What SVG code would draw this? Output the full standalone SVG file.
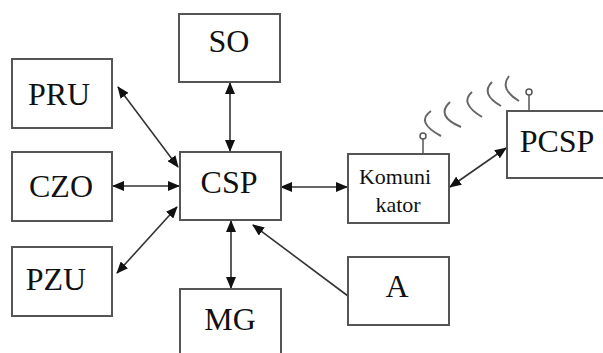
<svg xmlns="http://www.w3.org/2000/svg" width="603" height="353" viewBox="0 0 603 353">
  <style>
    .box { fill: #ffffff; stroke: #555555; stroke-width: 2; }
    .lbl { font-family: "Liberation Serif", "Times New Roman", serif; font-size: 32px; fill: #111111; text-anchor: middle; }
    .small { font-size: 22px; }
    .link { stroke: #333333; stroke-width: 1.6; fill: none; }
    .wave { stroke: #666666; stroke-width: 2; fill: none; }
    .ant { stroke: #555555; stroke-width: 1.5; fill: #ffffff; }
  </style>
  <defs>
    <marker id="head" viewBox="0 0 12 10" refX="11" refY="5" markerWidth="12" markerHeight="10" markerUnits="userSpaceOnUse" orient="auto-start-reverse">
      <path d="M0,0 L12,5 L0,10 Z" fill="#111111"/>
    </marker>
  </defs>
  <rect width="603" height="353" fill="#ffffff"/>

  <g id="connectors">
    <line class="link" x1="118" y1="87" x2="178" y2="167" marker-start="url(#head)" marker-end="url(#head)"/>
    <line class="link" x1="113" y1="186" x2="179" y2="186" marker-start="url(#head)" marker-end="url(#head)"/>
    <line class="link" x1="117" y1="273" x2="177" y2="207" marker-start="url(#head)" marker-end="url(#head)"/>
    <line class="link" x1="230" y1="83" x2="230" y2="151" marker-start="url(#head)" marker-end="url(#head)"/>
    <line class="link" x1="231" y1="221" x2="231" y2="288" marker-start="url(#head)" marker-end="url(#head)"/>
    <line class="link" x1="281" y1="187" x2="347" y2="187" marker-start="url(#head)" marker-end="url(#head)"/>
    <line class="link" x1="450" y1="187" x2="506" y2="148" marker-start="url(#head)" marker-end="url(#head)"/>
    <line class="link" x1="348" y1="296" x2="253" y2="225" marker-end="url(#head)"/>
  </g>

  <!-- radio waves between the two antennas -->
  <g id="waves">
    <path class="wave" d="M431,111 Q415,122 441,136"/>
    <path class="wave" d="M450,102 Q435,116 461,127"/>
    <path class="wave" d="M472,92 Q459,103 482,117"/>
    <path class="wave" d="M492,82 Q480,94 501,106"/>
    <path class="wave" d="M509,76 Q499,89 519,101"/>
  </g>

  <g id="SO">
    <rect class="box" x="179" y="14" width="101" height="68"/>
    <text class="lbl" x="229" y="52">SO</text>
  </g>
  <g id="PRU">
    <rect class="box" x="12" y="59" width="100" height="69"/>
    <text class="lbl" x="59" y="105">PRU</text>
  </g>
  <g id="CZO">
    <rect class="box" x="12" y="152" width="100" height="69"/>
    <text class="lbl" x="61" y="197">CZO</text>
  </g>
  <g id="PZU">
    <rect class="box" x="12" y="247" width="100" height="69"/>
    <text class="lbl" x="56" y="290">PZU</text>
  </g>
  <g id="CSP">
    <rect class="box" x="180" y="152" width="101" height="68"/>
    <text class="lbl" x="229" y="193">CSP</text>
  </g>
  <g id="MG">
    <rect class="box" x="180" y="289" width="101" height="80"/>
    <text class="lbl" x="230" y="330">MG</text>
  </g>
  <g id="Komunikator">
    <line class="ant" x1="423" y1="139" x2="423" y2="154"/>
    <circle class="ant" cx="423" cy="136" r="3"/>
    <rect class="box" x="348" y="154" width="101" height="69"/>
    <text class="lbl small" x="395" y="184">Komuni</text>
    <text class="lbl small" x="398" y="212">kator</text>
  </g>
  <g id="PCSP">
    <line class="ant" x1="529" y1="95" x2="529" y2="111"/>
    <circle class="ant" cx="529" cy="92" r="3"/>
    <rect class="box" x="507" y="111" width="110" height="67"/>
    <text class="lbl" x="557" y="152">PCSP</text>
  </g>
  <g id="A">
    <rect class="box" x="348" y="257" width="101" height="68"/>
    <text class="lbl" x="397" y="297">A</text>
  </g>
</svg>
